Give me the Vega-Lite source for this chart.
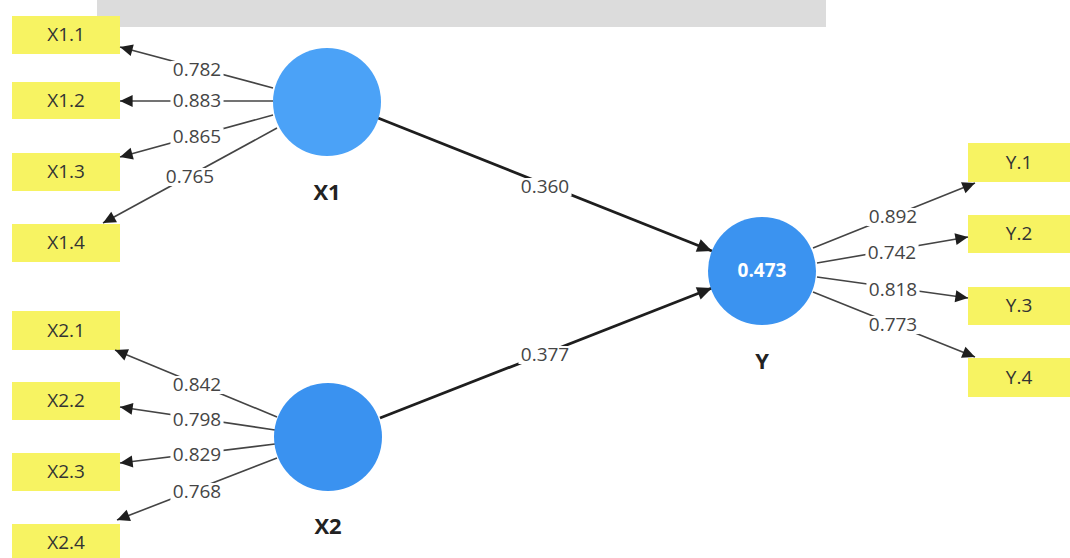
{
  "$schema": "https://vega.github.io/schema/vega-lite/v6.json",
  "width": 1070,
  "height": 558,
  "autosize": {"type": "fit", "contains": "padding"},
  "padding": 0,
  "background": "white",
  "config": {"view": {"stroke": null}, "font": "Open Sans"},
  "datasets": {
    "band": [{"x1": 97, "x2": 826, "y1": 0, "y2": 27}],
    "boxes": [
      {"name": "X1.1", "x1": 12, "x2": 120, "y1": 16, "y2": 54},
      {"name": "X1.2", "x1": 12, "x2": 120, "y1": 82, "y2": 119},
      {"name": "X1.3", "x1": 12, "x2": 120, "y1": 153, "y2": 191},
      {"name": "X1.4", "x1": 12, "x2": 120, "y1": 224, "y2": 262},
      {"name": "X2.1", "x1": 12, "x2": 120, "y1": 311, "y2": 350},
      {"name": "X2.2", "x1": 12, "x2": 120, "y1": 382, "y2": 420},
      {"name": "X2.3", "x1": 12, "x2": 120, "y1": 453, "y2": 491},
      {"name": "X2.4", "x1": 12, "x2": 120, "y1": 524, "y2": 562},
      {"name": "Y.1", "x1": 968, "x2": 1070, "y1": 143, "y2": 182},
      {"name": "Y.2", "x1": 968, "x2": 1070, "y1": 215, "y2": 253},
      {"name": "Y.3", "x1": 968, "x2": 1070, "y1": 287, "y2": 325},
      {"name": "Y.4", "x1": 968, "x2": 1070, "y1": 358, "y2": 397}
    ],
    "loadings": [
      {"label": "0.782", "sx": 273, "sy": 88, "tx": 120, "ty": 47, "lx": 197, "ly": 70},
      {"label": "0.883", "sx": 273, "sy": 101, "tx": 120, "ty": 101, "lx": 197, "ly": 101},
      {"label": "0.865", "sx": 273, "sy": 115, "tx": 120, "ty": 157, "lx": 197, "ly": 137},
      {"label": "0.765", "sx": 277, "sy": 128, "tx": 103, "ty": 223, "lx": 190, "ly": 177},
      {"label": "0.842", "sx": 277, "sy": 417, "tx": 115, "ty": 350, "lx": 197, "ly": 385},
      {"label": "0.798", "sx": 275, "sy": 430, "tx": 120, "ty": 407, "lx": 197, "ly": 420},
      {"label": "0.829", "sx": 275, "sy": 444, "tx": 120, "ty": 463, "lx": 197, "ly": 455},
      {"label": "0.768", "sx": 277, "sy": 458, "tx": 117, "ty": 520, "lx": 197, "ly": 492},
      {"label": "0.892", "sx": 813, "sy": 248, "tx": 975, "ty": 183, "lx": 893, "ly": 217},
      {"label": "0.742", "sx": 817, "sy": 263, "tx": 968, "ty": 237, "lx": 892, "ly": 253},
      {"label": "0.818", "sx": 817, "sy": 277, "tx": 968, "ty": 298, "lx": 893, "ly": 290},
      {"label": "0.773", "sx": 813, "sy": 292, "tx": 975, "ty": 357, "lx": 893, "ly": 325}
    ],
    "paths": [
      {"label": "0.360", "sx": 378, "sy": 118, "tx": 712, "ty": 251, "lx": 545, "ly": 187},
      {"label": "0.377", "sx": 380, "sy": 418, "tx": 712, "ty": 288, "lx": 545, "ly": 355}
    ],
    "nodes": [
      {"name": "X1", "x": 327, "y": 102, "ly": 193, "inner": ""},
      {"name": "X2", "x": 328, "y": 437, "ly": 527, "inner": ""},
      {"name": "Y", "x": 762, "y": 271, "ly": 362, "inner": "0.473"}
    ]
  },
  "encoding": {},
  "layer": [
    {
      "data": {"name": "band"},
      "mark": {"type": "rect", "color": "#dcdcdc"},
      "encoding": {
        "x": {"field": "x1", "type": "quantitative", "scale": {"domain": [0, 1070], "nice": false, "zero": false}, "axis": null},
        "x2": {"field": "x2"},
        "y": {"field": "y1", "type": "quantitative", "scale": {"domain": [0, 558], "nice": false, "zero": false, "reverse": true}, "axis": null},
        "y2": {"field": "y2"}
      }
    },
    {
      "data": {"name": "boxes"},
      "mark": {"type": "rect", "color": "#f7f362", "clip": true},
      "encoding": {
        "x": {"field": "x1", "type": "quantitative"},
        "x2": {"field": "x2"},
        "y": {"field": "y1", "type": "quantitative"},
        "y2": {"field": "y2"}
      }
    },
    {
      "data": {"name": "boxes"},
      "transform": [
        {"calculate": "(datum.x1 + datum.x2) / 2", "as": "cx"},
        {"calculate": "(datum.y1 + datum.y2) / 2", "as": "cy"}
      ],
      "mark": {"type": "text", "fontSize": 19, "color": "#333333", "align": "center", "baseline": "middle", "clip": true},
      "encoding": {
        "x": {"field": "cx", "type": "quantitative"},
        "y": {"field": "cy", "type": "quantitative"},
        "text": {"field": "name"}
      }
    },
    {
      "data": {"name": "loadings"},
      "mark": {"type": "rule", "color": "#444444", "strokeWidth": 1.6},
      "encoding": {
        "x": {"field": "sx", "type": "quantitative"},
        "y": {"field": "sy", "type": "quantitative"},
        "x2": {"field": "tx"},
        "y2": {"field": "ty"}
      }
    },
    {
      "data": {"name": "paths"},
      "mark": {"type": "rule", "color": "#1e1e1e", "strokeWidth": 2.8},
      "encoding": {
        "x": {"field": "sx", "type": "quantitative"},
        "y": {"field": "sy", "type": "quantitative"},
        "x2": {"field": "tx"},
        "y2": {"field": "ty"}
      }
    },
    {
      "data": {"name": "loadings"},
      "transform": [{"calculate": "atan2(datum.ty - datum.sy, datum.tx - datum.sx) * 180 / PI", "as": "ang"}],
      "mark": {"type": "point", "shape": "M0,0L-2,-0.95L-2,0.95Z", "filled": true, "color": "#1e1e1e", "opacity": 1, "size": 160, "strokeWidth": 0},
      "encoding": {
        "x": {"field": "tx", "type": "quantitative"},
        "y": {"field": "ty", "type": "quantitative"},
        "angle": {"field": "ang", "type": "quantitative", "scale": null}
      }
    },
    {
      "data": {"name": "paths"},
      "transform": [{"calculate": "atan2(datum.ty - datum.sy, datum.tx - datum.sx) * 180 / PI", "as": "ang"}],
      "mark": {"type": "point", "shape": "M0,0L-2,-0.9L-2,0.9Z", "filled": true, "color": "#1e1e1e", "opacity": 1, "size": 220, "strokeWidth": 0},
      "encoding": {
        "x": {"field": "tx", "type": "quantitative"},
        "y": {"field": "ty", "type": "quantitative"},
        "angle": {"field": "ang", "type": "quantitative", "scale": null}
      }
    },
    {
      "data": {"name": "loadings"},
      "mark": {"type": "point", "shape": "M-2.95,-1L2.95,-1L2.95,1L-2.95,1Z", "filled": true, "color": "white", "opacity": 1, "size": 324, "strokeWidth": 0},
      "encoding": {
        "x": {"field": "lx", "type": "quantitative"},
        "y": {"field": "ly", "type": "quantitative"}
      }
    },
    {
      "data": {"name": "paths"},
      "mark": {"type": "point", "shape": "M-2.95,-1L2.95,-1L2.95,1L-2.95,1Z", "filled": true, "color": "white", "opacity": 1, "size": 324, "strokeWidth": 0},
      "encoding": {
        "x": {"field": "lx", "type": "quantitative"},
        "y": {"field": "ly", "type": "quantitative"}
      }
    },
    {
      "data": {"name": "loadings"},
      "mark": {"type": "text", "fontSize": 19, "color": "#454545", "align": "center", "baseline": "middle"},
      "encoding": {
        "x": {"field": "lx", "type": "quantitative"},
        "y": {"field": "ly", "type": "quantitative"},
        "text": {"field": "label"}
      }
    },
    {
      "data": {"name": "paths"},
      "mark": {"type": "text", "fontSize": 19, "color": "#454545", "align": "center", "baseline": "middle"},
      "encoding": {
        "x": {"field": "lx", "type": "quantitative"},
        "y": {"field": "ly", "type": "quantitative"},
        "text": {"field": "label"}
      }
    },
    {
      "data": {"name": "nodes"},
      "mark": {"type": "point", "shape": "circle", "filled": true, "opacity": 1, "size": 11664, "strokeWidth": 0},
      "encoding": {
        "x": {"field": "x", "type": "quantitative"},
        "y": {"field": "y", "type": "quantitative"},
        "color": {"field": "name", "type": "nominal", "scale": {"domain": ["X1", "X2", "Y"], "range": ["#4ba2f7", "#3a92f0", "#3b93f0"]}, "legend": null}
      }
    },
    {
      "data": {"name": "nodes"},
      "mark": {"type": "text", "fontSize": 19, "fontWeight": "bold", "color": "white", "align": "center", "baseline": "middle"},
      "encoding": {
        "x": {"field": "x", "type": "quantitative"},
        "y": {"field": "y", "type": "quantitative"},
        "text": {"field": "inner"}
      }
    },
    {
      "data": {"name": "nodes"},
      "mark": {"type": "text", "fontSize": 22, "fontWeight": "bold", "color": "#222222", "align": "center", "baseline": "middle"},
      "encoding": {
        "x": {"field": "x", "type": "quantitative"},
        "y": {"field": "ly", "type": "quantitative"},
        "text": {"field": "name"}
      }
    }
  ]
}
